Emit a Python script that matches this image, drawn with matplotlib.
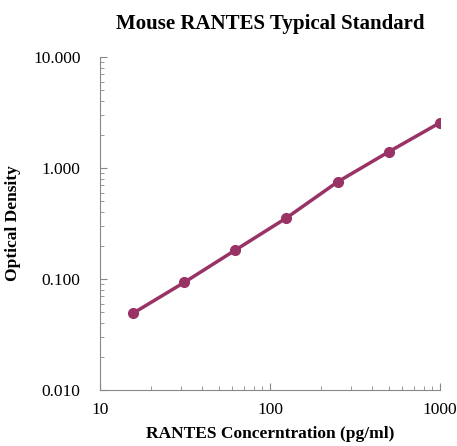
import matplotlib
matplotlib.use('Agg')
import matplotlib.pyplot as plt
from matplotlib.ticker import FixedLocator, LogLocator, NullFormatter

conc = [15.6, 31.25, 62.5, 125, 250, 500, 1000]
od = [0.049, 0.093, 0.182, 0.355, 0.75, 1.40, 2.56]

x_ticks = [10, 100, 1000]
x_labels = ['10', '100', '1000']
y_ticks = [0.01, 0.1, 1, 10]
y_labels = ['0.010', '0.100', '1.000', '10.000']

plt.rcParams['font.family'] = ['Liberation Serif', 'DejaVu Serif']

color = '#993366'
fig = plt.figure(figsize=(4.57, 4.46), dpi=100)
ax = fig.add_axes([0.2188, 0.1256, 0.7440, 0.7466])
ax.plot(conc, od, '-o', color=color, lw=2.5, ms=7)

ax.set_xscale('log')
ax.set_yscale('log')
ax.set_xlim(10, 1000)
ax.set_ylim(0.01, 10)
ax.xaxis.set_major_locator(FixedLocator(x_ticks))
ax.set_xticklabels(x_labels)
ax.yaxis.set_major_locator(FixedLocator(y_ticks))
ax.set_yticklabels(y_labels)
ax.xaxis.set_minor_locator(LogLocator(base=10, subs=range(2, 10)))
ax.yaxis.set_minor_locator(LogLocator(base=10, subs=range(2, 10)))
ax.xaxis.set_minor_formatter(NullFormatter())
ax.yaxis.set_minor_formatter(NullFormatter())

for s in ['top', 'right']:
    ax.spines[s].set_visible(False)
for s in ['left', 'bottom']:
    ax.spines[s].set_color('#888888')
ax.tick_params(which='both', direction='in', color='#888888', labelsize=12.5)
ax.tick_params(which='major', length=5)
ax.tick_params(axis='x', which='major', pad=9)
ax.tick_params(axis='y', which='major', pad=14)
ax.tick_params(which='minor', length=3)

ax.set_title('Mouse RANTES Typical Standard', fontsize=15, fontweight='bold', pad=20)
ax.set_xlabel('RANTES Concerntration (pg/ml)', fontsize=12.5, fontweight='bold')
ax.set_ylabel('Optical Density', fontsize=12.5, fontweight='bold')
ax.xaxis.set_label_coords(0.5, -0.108)
ax.yaxis.set_label_coords(-0.232, 0.5)

fig.savefig('out.png', dpi=100)
